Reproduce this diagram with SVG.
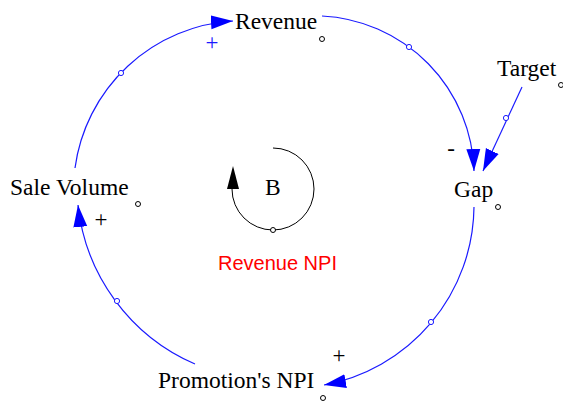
<svg xmlns="http://www.w3.org/2000/svg" width="563" height="401" viewBox="0 0 563 401">
  <style>
    .var { font-family: "Liberation Serif", "Times New Roman", serif; font-size: 23.5px; fill: #000; }
    .pol { font-family: "Liberation Serif", "Times New Roman", serif; font-size: 23px; text-anchor: middle; fill: #000; }
    .pos-blue { fill: #1a1aff; }
    .link { fill: none; stroke: #1a1aff; stroke-width: 1.2; marker-end: url(#ah); }
    .mid { fill: #fff; stroke: #1a1aff; stroke-width: 1; }
    .dot { fill: #fff; stroke: #000; stroke-width: 1; }
  </style>
  <defs>
    <marker id="ah" markerUnits="userSpaceOnUse" markerWidth="24" markerHeight="16" refX="22" refY="8" orient="auto">
      <path d="M0,1 L22,8 L0,15 Z" fill="#0000ff"/>
    </marker>
  </defs>
  <rect width="563" height="401" fill="#fff"/>

  <!-- causal links -->
  <g id="connectors">
    <path class="link" d="M75,168 A170,170 0 0 1 233,21"/>
    <path class="link" d="M322,16 A160,160 0 0 1 474,171"/>
    <path class="link" d="M522,87 L483,171"/>
    <path class="link" d="M474,207 A183,183 0 0 1 324,385"/>
    <path class="link" d="M195,364 A196,196 0 0 1 78,205"/>
    <circle class="mid" cx="121" cy="73" r="2.6"/>
    <circle class="mid" cx="409" cy="47" r="2.6"/>
    <circle class="mid" cx="506" cy="118" r="2.6"/>
    <circle class="mid" cx="431" cy="322" r="2.6"/>
    <circle class="mid" cx="117" cy="301" r="2.6"/>
    <text class="pol pos-blue" x="212" y="50">+</text>
    <text class="pol" x="451" y="156">-</text>
    <text class="pol" x="339" y="363">+</text>
    <text class="pol" x="101" y="227">+</text>
  </g>

  <g id="node-revenue">
    <text class="var" x="235" y="29">Revenue</text>
    <circle class="dot" cx="322" cy="39" r="2.5"/>
  </g>
  <g id="node-target">
    <text class="var" x="497" y="76">Target</text>
    <circle class="dot" cx="561" cy="85" r="2.5"/>
  </g>
  <g id="node-gap">
    <text class="var" x="454" y="197">Gap</text>
    <circle class="dot" cx="498" cy="207" r="2.5"/>
  </g>
  <g id="node-sale-volume">
    <text class="var" x="10" y="195">Sale Volume</text>
    <circle class="dot" cx="138" cy="204" r="2.5"/>
  </g>
  <g id="node-promotion-npi">
    <text class="var" x="158" y="388">Promotion's NPI</text>
    <circle class="dot" cx="323" cy="398" r="2.5"/>
  </g>

  <!-- balancing loop marker -->
  <g id="loop-b">
    <path d="M273,148 A41,41 0 1 1 232,189" fill="none" stroke="#000" stroke-width="1"/>
    <polygon points="233,166 227,189 239,189" fill="#000"/>
    <circle class="dot" cx="273" cy="230" r="2.5"/>
    <text class="var" x="265" y="195">B</text>
    <text x="218" y="270" font-family="Liberation Sans, Arial, sans-serif" font-size="20" fill="#ff0000">Revenue NPI</text>
  </g>
</svg>
